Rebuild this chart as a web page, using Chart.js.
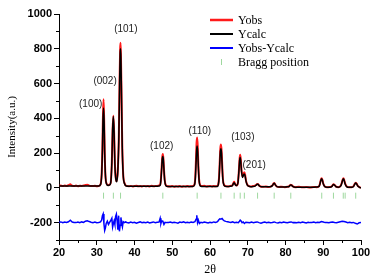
<!DOCTYPE html>
<html>
<head>
<meta charset="utf-8">
<script src="https://cdn.jsdelivr.net/npm/chart.js@4.4.0/dist/chart.umd.min.js"></script>
<style>
  html, body { margin: 0; padding: 0; background: #fff; }
  #wrap { width: 376px; height: 279px; }
</style>
</head>
<body>
<div id="wrap"><canvas id="xrdChart" width="376" height="279"></canvas></div>
<script>
// 2theta grid shared by Yobs / Ycalc
const twoTheta = [
    20, 20.5, 21, 21.5, 22, 22.5, 23, 23.3, 23.6, 24, 24.5, 25, 25.5, 26, 26.5, 27, 27.5, 28, 28.5, 29, 29.5, 30, 30.5,
    31.0, 31.3, 31.5, 31.65, 31.8, 31.95, 32.1, 32.3, 32.6,
    33.0, 33.4,
    33.7, 34.0, 34.2, 34.4, 34.6, 34.8, 35.05,
    35.3, 35.6, 35.85, 36.05, 36.2, 36.3, 36.4, 36.55, 36.75, 37.0, 37.4,
    37.8, 38.5, 39, 39.5, 40, 40.5, 41, 41.5, 42, 42.5, 43, 43.5, 44, 44.5, 45, 45.5, 46, 46.5,
    46.8, 47.0, 47.2, 47.35, 47.5, 47.65, 47.8, 48.0, 48.3,
    48.8, 49.5, 50, 50.5, 51, 51.5, 52, 52.5, 53, 53.5, 54, 54.5, 55, 55.5,
    55.9, 56.1, 56.3, 56.45, 56.6, 56.75, 56.9, 57.1, 57.4,
    57.8, 58.5, 59, 59.5, 60, 60.5, 61, 61.5, 62,
    62.2, 62.4, 62.6, 62.75, 62.9, 63.05, 63.2, 63.4, 63.7,
    64.2, 64.8, 65.4, 65.9,
    66.1, 66.3, 66.4, 66.5, 66.7,
    67.1,
    67.4, 67.65, 67.85, 68.0, 68.15, 68.35, 68.6, 68.85, 69.1, 69.3, 69.55, 69.9, 70.3,
    70.8, 71.4, 71.9,
    72.2, 72.5, 72.7, 73.0, 73.4,
    74, 74.8, 75.5, 76.2,
    76.6, 76.85, 77.05, 77.3, 77.7,
    78.3, 79, 79.8, 80.5, 81.0,
    81.2, 81.4, 81.6, 82.0,
    82.6, 83.5, 84.5, 85.5, 86.5, 87.5, 88.3, 88.9,
    89.1, 89.35, 89.55, 89.75, 90.0, 90.4,
    91, 91.7, 92.3,
    92.5, 92.75, 93.0, 93.4,
    94, 94.6,
    94.9, 95.15, 95.35, 95.55, 95.8, 96.2,
    96.8, 97.5, 98.1,
    98.35, 98.6, 98.85, 99.2, 99.6, 100
];
const yObs = [
    12, 14, 10, 13, 11, 15, 20, 14, 12, 10, 13, 9, 12, 11, 14, 16, 18, 13, 11, 10, 12, 9, 11,
    20, 80, 230, 420, 510, 400, 210, 70, 25,
    15, 18,
    30, 150, 330, 415, 320, 140, 55,
    38, 110, 300, 620, 800, 835, 770, 560, 250, 80, 25,
    12, 9, 11, 8, 10, 12, 9, 10, 8, 11, 9, 10, 8, 12, 9, 10, 11, 14,
    18, 50, 120, 175, 195, 170, 110, 45, 15,
    9, 8, 10, 7, 9, 8, 10, 7, 9, 8, 10, 8, 9, 11,
    20, 60, 170, 260, 290, 240, 140, 50, 15,
    10, 12, 8, 9, 11, 8, 10, 9, 12,
    20, 60, 160, 230, 250, 220, 150, 55, 18,
    10, 8, 11, 14,
    22, 32, 35, 30, 20,
    14,
    30, 100, 170, 190, 165, 100, 65, 80, 90, 75, 40, 18, 10,
    8, 10, 12,
    16, 22, 21, 14, 8,
    6, 8, 5, 9,
    16, 26, 28, 18, 8,
    5, 7, 4, 6, 10,
    15, 18, 16, 8,
    4, 6, 3, 5, 2, 5, 4, 10,
    22, 45, 55, 48, 25, 8,
    3, 5, 9,
    16, 20, 17, 7,
    4, 12,
    28, 48, 55, 45, 25, 8,
    3, 4, 12,
    24, 30, 24, 10, 4, 0
];
const yCalc = [
    10, 10, 10, 10, 10, 10, 10, 10, 10, 10, 10, 10, 10, 10, 10, 10, 10, 10, 10, 10, 10, 10, 11,
    18, 75, 215, 390, 460, 385, 205, 72, 22,
    14, 16,
    28, 145, 335, 410, 315, 135, 50,
    35, 105, 290, 600, 770, 800, 745, 545, 240, 75, 22,
    10, 9, 9, 9, 9, 9, 9, 9, 9, 9, 9, 9, 9, 9, 9, 9, 9, 11,
    15, 45, 110, 165, 180, 160, 105, 42, 13,
    8, 8, 8, 8, 8, 8, 8, 8, 8, 8, 8, 8, 8, 8,
    17, 50, 140, 215, 240, 205, 125, 45, 12,
    8, 8, 8, 8, 8, 8, 8, 8, 8,
    18, 55, 145, 210, 225, 200, 135, 50, 15,
    8, 8, 9, 12,
    20, 28, 30, 27, 18,
    13,
    28, 95, 160, 175, 150, 95, 60, 72, 80, 68, 37, 16, 9,
    7, 8, 10,
    15, 20, 20, 13, 7,
    6, 6, 6, 8,
    15, 25, 26, 17, 7,
    5, 5, 5, 6, 9,
    14, 17, 15, 7,
    4, 4, 4, 4, 4, 4, 5, 8,
    20, 42, 52, 45, 23, 7,
    4, 4, 8,
    15, 19, 16, 6,
    4, 10,
    26, 45, 52, 42, 22, 7,
    3, 3, 10,
    22, 28, 22, 9, 3, 0
];

// difference curve (offset to -200)
const diffTheta = [
    20, 20.5, 21, 21.5, 22, 22.5, 23, 23.5, 24, 24.5, 25, 25.5, 26, 26.5, 27, 27.5, 28, 28.5, 29, 29.5, 30, 30.5,
    31.0, 31.3, 31.5, 31.7, 31.9, 32.1, 32.3, 32.5, 32.8, 33.1, 33.4, 33.7, 34.0, 34.2, 34.4, 34.6, 34.8, 35.0, 35.2, 35.4,
    35.6, 35.8, 36.0, 36.2, 36.4, 36.6, 36.8, 37.0, 37.3, 37.6,
    38, 38.5, 39, 39.5, 40, 40.5, 41, 41.5, 42, 42.5, 43, 43.5, 44, 44.5, 45, 45.5, 46,
    46.5, 46.8, 47.0, 47.2, 47.5, 47.8, 48.1, 48.5,
    49, 49.5, 50, 50.5, 51, 51.5, 52, 52.5, 53, 53.5, 54, 54.5, 55, 55.5,
    56.0, 56.3, 56.5, 56.7, 56.9, 57.2, 57.6,
    58, 58.5, 59, 59.5, 60, 60.5, 61, 61.5, 62,
    62.3, 62.6, 62.9, 63.2, 63.5, 63.8, 64.2,
    64.6, 65, 65.5, 66, 66.5, 67, 67.5,
    67.8, 68.0, 68.2, 68.5, 68.8, 69.1, 69.5,
    70, 70.5, 71, 71.5, 72, 72.5, 73, 73.5, 74, 74.5, 75, 75.5, 76, 76.5, 77, 77.5, 78, 78.5, 79, 79.5,
    80, 80.5, 81, 81.5, 82, 82.5, 83, 83.5, 84, 84.5, 85, 85.5, 86, 86.5, 87, 87.5, 88, 88.5, 89, 89.5,
    90, 90.5, 91, 91.5, 92, 92.5, 93, 93.5, 94, 94.5, 95, 95.5, 96, 96.5, 97, 97.5, 98, 98.5, 99, 99.5, 100
];
const yDiff = [
    -198, -196, -201, -197, -199, -195, -186, -197, -199, -200, -197, -201, -196, -199, -192, -189, -194, -198, -200, -197, -201, -199,
    -196, -185, -160, -150, -205, -245, -230, -205, -192, -210, -198, -188, -175, -225, -205, -190, -210, -165, -152, -190,
    -240, -160, -250, -215, -170, -205, -225, -195, -200, -196,
    -199, -202, -197, -200, -198, -203, -199, -196, -201, -198, -200, -197, -202, -199, -196, -200, -198,
    -197, -175, -205, -190, -192, -210, -198, -200,
    -199, -197, -201, -198, -200, -203, -197, -199, -196, -201, -198, -200, -197, -199,
    -195, -180, -158, -200, -185, -205, -198,
    -200, -197, -199, -202, -198, -200, -196, -199, -195,
    -185, -178, -180, -176, -185, -190, -193,
    -195, -197, -199, -196, -201, -198, -200,
    -192, -186, -190, -200, -196, -205, -198,
    -199, -201, -197, -200, -198, -196, -200, -203, -199, -197, -200, -198, -201, -199, -196, -200, -202, -198, -200, -197,
    -199, -201, -198, -196, -200, -199, -201, -198, -200, -197, -199, -202, -198, -200, -199, -197, -200, -198, -199, -194,
    -197, -200, -199, -201, -198, -196, -199, -201, -198, -195, -192, -194, -197, -200, -198, -201, -199, -204, -208, -201, -200
];

const braggPos = [31.8, 34.4, 36.3, 47.5, 56.6, 62.9, 66.4, 68.0, 69.1, 72.6, 77.0, 81.4, 89.6, 92.7, 95.3, 95.8, 98.6];
const braggLevel = -45;

const xTickValues = [20, 30, 40, 50, 60, 70, 80, 90, 100];
const yTickValues = [-200, 0, 200, 400, 600, 800, 1000];

const peakLabels = ['(100)', '(002)', '(101)', '(102)', '(110)', '(103)', '(201)'];
const peakLabelX = [28.4, 32.2, 37.7, 47.2, 57.3, 68.7, 71.7];
const peakLabelY = [480, 613, 913, 240, 325, 292, 129];

const legendItems = [
    { text: 'Yobs', color: '#ff1a1a', kind: 'line', width: 2.5 },
    { text: 'Ycalc', color: '#000000', kind: 'line', width: 2 },
    { text: 'Yobs-Ycalc', color: '#0000ff', kind: 'line', width: 2 },
    { text: 'Bragg position', color: '#9fd89f', kind: 'tick', width: 1 },
];

const pairs = (xs, ys) => xs.map((x, i) => ({ x: x, y: ys[i] }));

// 보조 눈금, 축 제목, 피크 라벨, 범례
const extrasPlugin = {
    id: 'extras',
    afterDraw(chart) {
        const ctx = chart.ctx;
        const xs = chart.scales.x;
        const ys = chart.scales.y;
        const area = chart.chartArea;
        ctx.save();

        // minor ticks
        ctx.strokeStyle = '#000';
        ctx.lineWidth = 1;
        ctx.beginPath();
        for (let v = 25; v < 100; v += 10) {
            const px = Math.round(xs.getPixelForValue(v)) + 0.5;
            ctx.moveTo(px, area.bottom);
            ctx.lineTo(px, area.bottom + 3);
        }
        for (let v = -300; v < 1000; v += 200) {
            const py = Math.round(ys.getPixelForValue(v)) + 0.5;
            ctx.moveTo(area.left, py);
            ctx.lineTo(area.left - 3, py);
        }
        ctx.stroke();

        // axis titles
        ctx.fillStyle = '#000';
        ctx.font = '11px "Liberation Serif", "Times New Roman", serif';
        ctx.textAlign = 'center';
        ctx.textBaseline = 'middle';
        ctx.save();
        ctx.translate(12, (area.top + area.bottom) / 2);
        ctx.rotate(-Math.PI / 2);
        ctx.fillText('Intensity(a.u.)', 0, 0);
        ctx.restore();
        ctx.font = '12px "Liberation Serif", "Times New Roman", serif';
        ctx.fillText('2\u03b8', (area.left + area.right) / 2, 270);

        // peak labels
        ctx.font = '10px "Liberation Sans", Arial, sans-serif';
        ctx.fillStyle = '#222';
        peakLabels.forEach((t, i) => {
            ctx.fillText(t, xs.getPixelForValue(peakLabelX[i]), ys.getPixelForValue(peakLabelY[i]));
        });

        // legend
        ctx.textAlign = 'left';
        ctx.font = '12px "Liberation Serif", "Times New Roman", serif';
        legendItems.forEach((item, i) => {
            const y = 20 + i * 14;
            ctx.strokeStyle = item.color;
            ctx.lineWidth = item.width;
            ctx.beginPath();
            if (item.kind === 'line') {
                ctx.moveTo(210, y);
                ctx.lineTo(233, y);
            } else {
                ctx.moveTo(221.5, y - 3);
                ctx.lineTo(221.5, y + 3);
            }
            ctx.stroke();
            ctx.fillStyle = '#000';
            ctx.fillText(item.text, 238, y + 1);
        });
        ctx.restore();
    },
};

document.addEventListener('DOMContentLoaded', () => {
    const canvas = document.getElementById('xrdChart').getContext('2d');

    new Chart(canvas, {
        type: 'line',
        data: {
            datasets: [
                {
                    label: 'Ycalc',
                    data: pairs(twoTheta, yCalc),
                    borderColor: '#000000',
                    borderWidth: 1.5,
                    pointRadius: 0,
                    cubicInterpolationMode: 'monotone',
                    order: 0,
                },
                {
                    label: 'Yobs',
                    data: pairs(twoTheta, yObs),
                    borderColor: '#ff1a1a',
                    borderWidth: 2,
                    pointRadius: 0,
                    cubicInterpolationMode: 'monotone',
                    order: 1,
                },
                {
                    label: 'Yobs-Ycalc',
                    data: pairs(diffTheta, yDiff),
                    borderColor: '#0000ff',
                    borderWidth: 1.5,
                    pointRadius: 0,
                    order: 2,
                },
                {
                    label: 'Bragg position',
                    type: 'scatter',
                    data: braggPos.map((p) => ({ x: p, y: braggLevel })),
                    borderColor: '#9fd89f',
                    backgroundColor: '#9fd89f',
                    pointStyle: 'line',
                    rotation: 90,
                    pointRadius: 3,
                    borderWidth: 1,
                    order: 3,
                },
            ],
        },
        options: {
            responsive: false,
            animation: false,
            devicePixelRatio: 1,
            layout: { padding: { top: 14, right: 15, left: 0, bottom: 0 } },
            plugins: {
                legend: { display: false },
                tooltip: { enabled: false },
            },
            scales: {
                x: {
                    type: 'linear',
                    min: 20,
                    max: 100,
                    afterBuildTicks: (scale) => {
                        scale.ticks = xTickValues.map((v) => ({ value: v }));
                    },
                    afterFit: (scale) => {
                        scale.height = 39;
                    },
                    border: { display: true, color: '#000', width: 1 },
                    grid: { drawOnChartArea: false, drawTicks: true, tickLength: 5, color: '#000' },
                    ticks: {
                        color: '#000',
                        padding: 1,
                        maxRotation: 0,
                        callback: (v) => String(v),
                        font: { family: '"Liberation Sans", Arial, sans-serif', size: 11, weight: 'bold' },
                    },
                },
                y: {
                    type: 'linear',
                    min: -300,
                    max: 1000,
                    afterBuildTicks: (scale) => {
                        scale.ticks = yTickValues.map((v) => ({ value: v }));
                    },
                    afterFit: (scale) => {
                        scale.width = 59;
                    },
                    border: { display: true, color: '#000', width: 1 },
                    grid: { drawOnChartArea: false, drawTicks: true, tickLength: 5, color: '#000' },
                    ticks: {
                        color: '#000',
                        padding: 2,
                        callback: (v) => String(v),
                        font: { family: '"Liberation Sans", Arial, sans-serif', size: 11, weight: 'bold' },
                    },
                },
            },
        },
        plugins: [extrasPlugin],
    });
});
</script>
</body>
</html>
